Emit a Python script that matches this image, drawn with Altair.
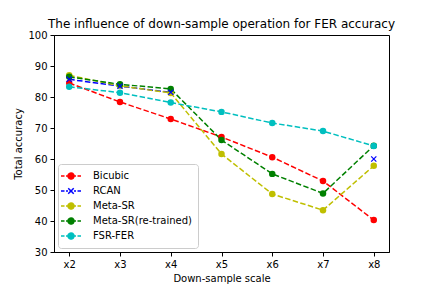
import altair as alt
import pandas as pd

scales = ["x2", "x3", "x4", "x5", "x6", "x7", "x8"]
series_names = ["Bicubic", "RCAN", "Meta-SR", "Meta-SR(re-trained)", "FSR-FER"]
bicubic = [84.5, 78.4, 72.9, 67.1, 60.6, 52.9, 40.3]
rcan = [85.7, 83.5, 81.5, None, None, None, 60.0]
meta_sr = [87.0, 83.6, 81.3, 61.6, 48.7, 43.5, 57.8]
meta_sr_rt = [86.5, 84.1, 82.6, 66.1, 55.2, 48.9, 64.3]
fsr_fer = [83.3, 81.4, 78.2, 75.2, 71.6, 69.0, 64.2]
colors = ["#ff0000", "#0000ff", "#bfbf00", "#008000", "#00bfbf"]

values = [bicubic, rcan, meta_sr, meta_sr_rt, fsr_fer]
rows = []
for name, vals in zip(series_names, values):
    seg = 0
    for s, v in zip(scales, vals):
        if v is None:
            seg += 1
            continue
        rows.append({"scale": s, "series": name, "marker": name, "seg": seg, "acc": v})
df = pd.DataFrame(rows)

xpath = "M-0.8,-0.8L0.8,0.8M-0.8,0.8L0.8,-0.8"
dashes = "M-2,0H-1.3M-1.0,0H-0.6M0.6,0H1.0M1.3,0H2"
legend_circle = (dashes +
                 "M0.6,0A0.6,0.6,0,1,1,-0.6,0A0.6,0.6,0,1,1,0.6,0"
                 "M0.4,0A0.4,0.4,0,1,1,-0.4,0A0.4,0.4,0,1,1,0.4,0"
                 "M0.2,0A0.2,0.2,0,1,1,-0.2,0A0.2,0.2,0,1,1,0.2,0")
legend_cross = dashes + "M-0.55,-0.55L0.55,0.55M-0.55,0.55L0.55,-0.55"

cscale = alt.Scale(domain=series_names, range=colors)
x = alt.X("scale:N", sort=scales, scale=alt.Scale(type="point", padding=0.3),
          axis=alt.Axis(title="Down-sample scale", labelAngle=0))
y = alt.Y("acc:Q", scale=alt.Scale(domain=[30, 100], nice=False),
          axis=alt.Axis(title="Total accuracy", values=[30, 40, 50, 60, 70, 80, 90, 100]))

legend = alt.Legend(
    title=None, orient="bottom-left", offset=4,
    symbolType=alt.ExprRef(expr="datum && datum.value === 'RCAN' ? '" + legend_cross
                           + "' : '" + legend_circle + "'"),
    symbolSize=100,
    symbolStrokeWidth=1.5, symbolOffset=1, symbolDash=[1, 0],
    labelOffset=16, rowPadding=3,
    labelFontSize=10, labelFont="DejaVu Sans", labelColor="black",
    padding=6, strokeColor="#cccccc", cornerRadius=3, fillColor="white",
)

lines = alt.Chart(df).mark_line(strokeDash=[5.5, 2.4], strokeWidth=1.5).encode(
    x=x, y=y,
    color=alt.Color("series:N", scale=cscale, sort=series_names, legend=legend),
    detail=["series:N", "seg:O"],
)

circles = alt.Chart(df).transform_filter(alt.datum.series != "RCAN").mark_circle(
    size=42, opacity=1).encode(
    x=x, y=y,
    fill=alt.Fill("marker:N", scale=cscale, legend=None),
)

crosses = alt.Chart(df).transform_filter(alt.datum.series == "RCAN").mark_point(
    shape=xpath, size=42, strokeWidth=1.2, opacity=1, filled=False).encode(
    x=x, y=y,
    stroke=alt.Stroke("marker:N", scale=cscale, legend=None),
)

chart = alt.layer(lines, circles, crosses).properties(
    width=335, height=217,
    title=alt.Title("The influence of down-sample operation for FER accuracy",
                    fontSize=12, font="DejaVu Sans", fontWeight="normal", color="black",
                    offset=-1),
    autosize=alt.AutoSizeParams(type="none"),
    padding={"left": 46, "top": 27, "right": 30, "bottom": 40},
).configure_view(stroke="black", strokeWidth=1).configure_axis(
    grid=False, domainColor="black", tickColor="black", labelColor="black",
    titleColor="black", labelFont="DejaVu Sans", titleFont="DejaVu Sans",
    labelFontSize=10, titleFontSize=10, titleFontWeight="normal", tickSize=4,
    labelPadding=3,
)

chart.save("out.html", embed_options={"renderer": "svg", "actions": False})
